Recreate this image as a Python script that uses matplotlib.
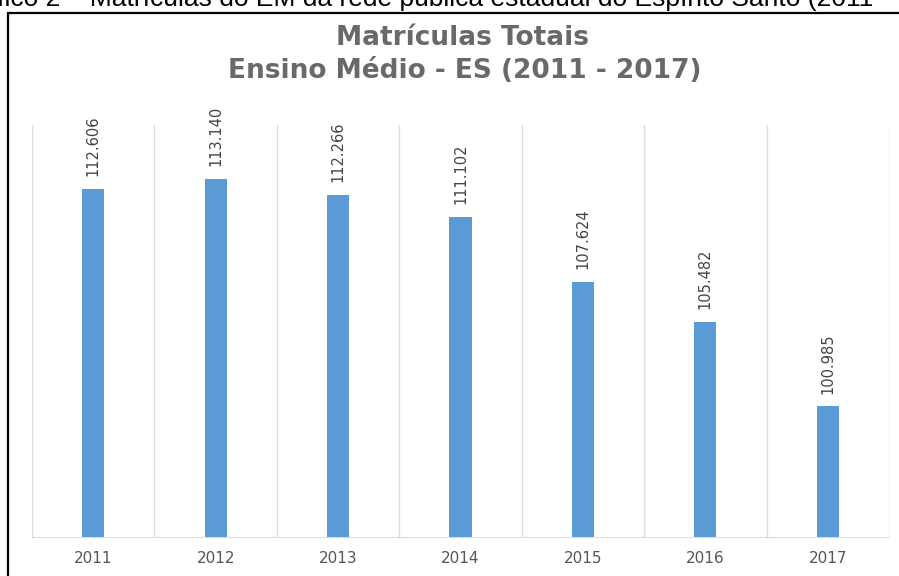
import matplotlib.pyplot as plt
from matplotlib.patches import Rectangle

# Matrículas no ensino médio, rede estadual do ES
anos = ['2011', '2012', '2013', '2014', '2015', '2016', '2017']
matriculas = [112606, 113140, 112266, 111102, 107624, 105482, 100985]

AZUL = '#5B9BD5'
CINZA_TITULO = '#696969'
CINZA_TEXTO = '#555555'
CINZA_GRADE = '#DDDDDD'

fig = plt.figure(figsize=(8.99, 5.76), dpi=100)
W, H = 899, 576

# legenda do documento (cortada no topo)
fig.text(873 / W, 1 - 6 / H,
         'Gráfico 2 – Matrículas do EM da rede pública estadual do Espírito Santo (2011',
         ha='right', va='baseline', fontsize=19, family='Liberation Sans', color='black')

# moldura
fig.patches.append(Rectangle((8 / W, -0.05), 1.0, 1 - 13 / H + 0.05,
                             transform=fig.transFigure, fill=False,
                             edgecolor='black', linewidth=1.6))

# títulos
fig.text(462 / W, 1 - 45 / H, 'Matrículas Totais', ha='center', va='baseline',
         fontsize=19, family='DejaVu Sans', weight='bold', color=CINZA_TITULO)
fig.text(465 / W, 1 - 78 / H, 'Ensino Médio - ES (2011 - 2017)', ha='center', va='baseline',
         fontsize=19, family='DejaVu Sans', weight='bold', color=CINZA_TITULO)

ax = fig.add_axes([32 / W, (576 - 537) / H, 857 / W, 412 / H])
x = range(len(anos))
ax.bar(x, matriculas, width=0.18, color=AZUL, zorder=3)

for xi, v in zip(x, matriculas):
    ax.annotate(f'{v:,}'.replace(',', '.'), (xi, v), xytext=(0, 9),
                textcoords='offset points', rotation=90, ha='center', va='bottom',
                fontsize=10.5, color='#444444')

ax.set_xlim(-0.5, len(anos) - 0.5)
ax.set_ylim(94000, 116000)
ax.set_yticks([])
ax.set_xticks(list(x))
ax.set_xticklabels(anos, fontsize=11, color=CINZA_TEXTO)
ax.set_xticks([i - 0.5 for i in range(len(anos) + 1)], minor=True)
ax.tick_params(axis='x', which='both', length=0, pad=10)
ax.grid(axis='x', which='minor', color=CINZA_GRADE, linewidth=1, zorder=0)

for s in ['top', 'left', 'right']:
    ax.spines[s].set_visible(False)
ax.spines['bottom'].set_color(CINZA_GRADE)

fig.savefig('out.png', dpi=100)
